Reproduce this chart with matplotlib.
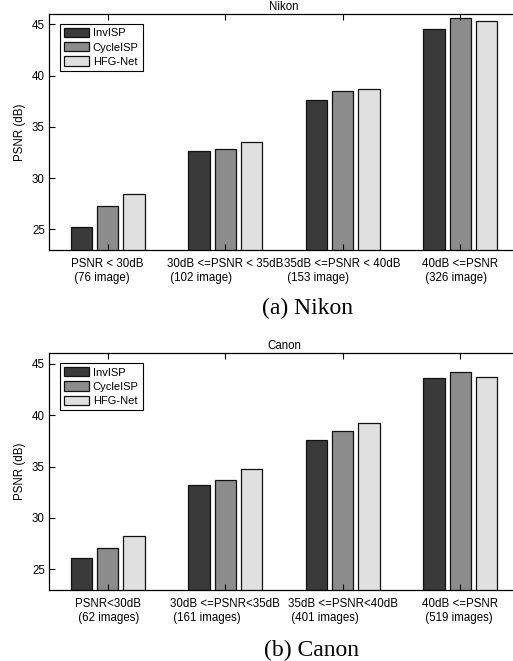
import numpy as np
from matplotlib import pyplot as plt

plt.rcParams["font.family"] = ["Liberation Sans", "DejaVu Sans"]

methods = ["InvISP", "CycleISP", "HFG-Net"]
colors = ["#3a3a3a", "#8c8c8c", "#e0e0e0"]

nikon_labels = ["PSNR < 30dB\n (76 image)", "30dB <=PSNR < 35dB\n (102 image)",
                "35dB <=PSNR < 40dB\n (153 image)", "40dB <=PSNR\n (326 image)"]
nikon_invisp = [25.26, 32.60, 37.66, 44.55]
nikon_cycleisp = [27.27, 32.86, 38.54, 45.58]
nikon_hfgnet = [28.44, 33.51, 38.73, 45.29]

canon_labels = ["PSNR<30dB\n (62 images)", "30dB <=PSNR<35dB\n (161 images)",
                "35dB <=PSNR<40dB\n (401 images)", "40dB <=PSNR\n (519 images)"]
canon_invisp = [26.07, 33.18, 37.56, 43.57]
canon_cycleisp = [27.05, 33.70, 38.47, 44.22]
canon_hfgnet = [28.28, 34.77, 39.25, 43.73]

fig = plt.figure(figsize=(5.13, 6.61), dpi=100)


def draw(ax, labels, series, title):
    x = np.arange(1, len(labels) + 1)
    for i, vals in enumerate(series):
        ax.bar(x + (i - 1) * 0.224, vals, width=0.18, color=colors[i],
               edgecolor="#111111", linewidth=0.9, label=methods[i], zorder=1)
    ax.set_xlim(0.5, 4.5)
    ax.set_ylim(23, 46)
    ax.set_yticks([25, 30, 35, 40, 45])
    ax.set_xticks(x)
    ax.set_xticklabels(labels, fontsize=8.3, multialignment="left")
    ax.tick_params(axis="both", direction="in", length=4, width=0.8,
                   labelsize=8.3, top=True, zorder=3)
    ax.tick_params(axis="x", pad=6)
    ax.tick_params(axis="y", pad=3)
    for side in ["left", "top", "bottom"]:
        ax.spines[side].set_linewidth(0.9)
        ax.spines[side].set_zorder(4)
    # the original figure is cropped before its right edge
    ax.spines["right"].set_visible(False)
    ax.set_ylabel("PSNR (dB)", fontsize=8.3, labelpad=4)
    ax.set_title(title, fontsize=8.3, pad=3)
    ax.legend(loc="upper left", bbox_to_anchor=(0.0234, 0.958), borderaxespad=0,
              fontsize=8, fancybox=False, edgecolor="black", framealpha=1,
              handlelength=2.3, handleheight=0.9, labelspacing=0.35,
              handletextpad=0.3, borderpad=0.35).get_frame().set_linewidth(0.8)


ax1 = fig.add_axes([49 / 513, 1 - 250 / 661, 470 / 513, 236 / 661])
draw(ax1, nikon_labels, [nikon_invisp, nikon_cycleisp, nikon_hfgnet], "Nikon")

ax2 = fig.add_axes([49 / 513, 1 - 590 / 661, 470 / 513, 236.7 / 661])
draw(ax2, canon_labels, [canon_invisp, canon_cycleisp, canon_hfgnet], "Canon")

fig.text(307 / 513, 1 - 308 / 661, "(a) Nikon", fontsize=17, ha="center", va="center",
         family="Liberation Serif")
fig.text(311 / 513, 1 - 650 / 661, "(b) Canon", fontsize=17, ha="center", va="center",
         family="Liberation Serif")

fig.savefig("out.png", dpi=100)
